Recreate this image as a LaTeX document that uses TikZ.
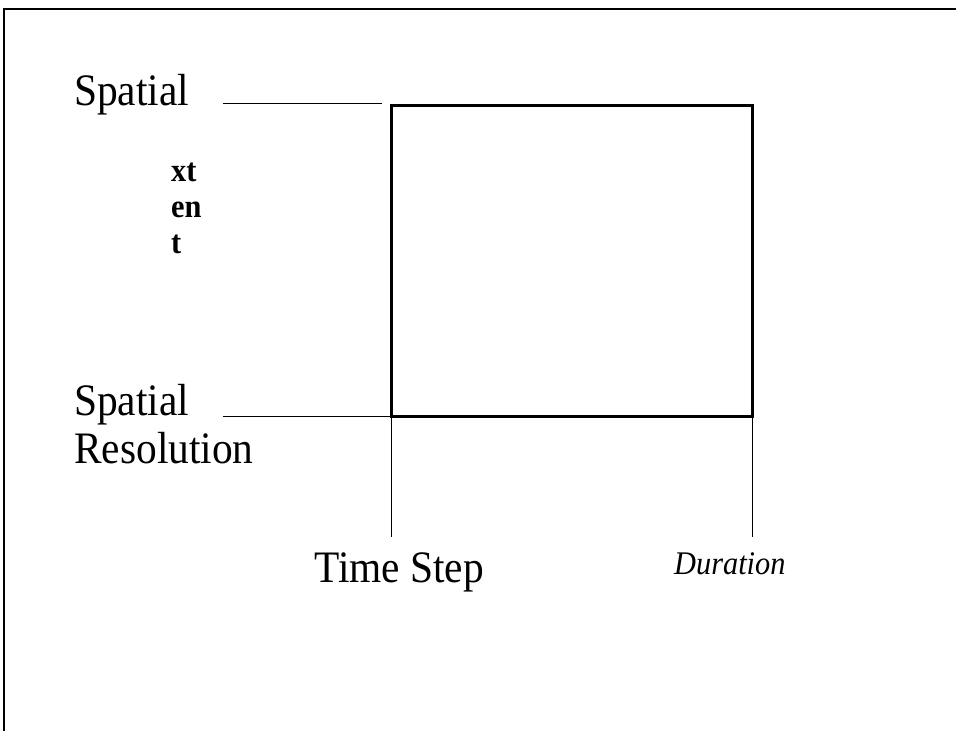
\documentclass[tikz,border=0pt]{standalone}
\usepackage{fontspec}
\setmainfont{Liberation Serif}[FakeStretch=0.92]
\usepackage{tikz}

\begin{document}
\begin{tikzpicture}[x=1pt,y=-1pt,
	label/.style={inner sep=0,anchor=base west,align=left},
	thinline/.style={line width=1.8pt},
	thickline/.style={line width=3.2pt}]
	\useasboundingbox (0,0) rectangle (956,731);
	% frame
	\draw[line width=1.8pt] (4,731) -- (4,9) -- (956,9);
	% box
	\node[draw,thickline,inner sep=0,outer sep=0,minimum width=361pt,minimum height=311pt,anchor=north west] (box) at (391.5,105.5) {};
	% labels (multi-line: base is the last line)
	\node[label,font=\fontsize{45}{48}\selectfont] (ext) at (74,105) {Spatial};
	\node[label,font=\bfseries\fontsize{33}{36}\selectfont] (mid) at (171,253) {xt\\en\\t};
	\node[label,font=\fontsize{45}{48}\selectfont] (res) at (74,463) {Spatial\\Resolution};
	\node[label,font=\fontsize{45}{48}\selectfont] (step) at (314,582) {Time Step};
	\node[label,font=\itshape\fontsize{33}{36}\selectfont] (dur) at (674,574) {Duration};
	% connectors
	\coordinate (e1) at (223,103.5);
	\coordinate (e2) at (382,103.5);
	\coordinate (r1) at (223,416.5);
	\coordinate (t1) at (391.5,537);
	\coordinate (d1) at (752.5,537);
	\draw[thinline] (e1) -- (e2);
	\draw[thinline] (r1) -- (box.south west);
	\draw[thinline] (box.south west) -- (t1);
	\draw[thinline] (box.south east) -- (d1);
\end{tikzpicture}
\end{document}
